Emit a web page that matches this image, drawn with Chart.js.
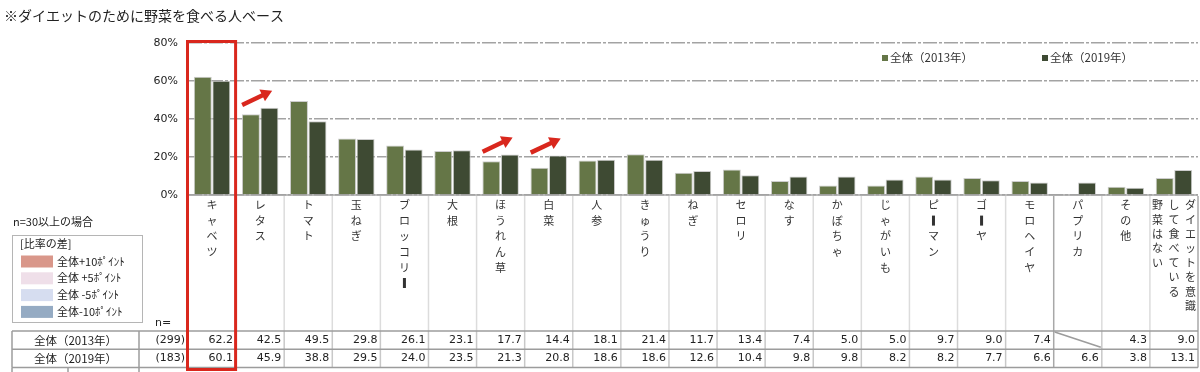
<!DOCTYPE html>
<html lang="ja">
<head>
<meta charset="utf-8">
<title>ダイエットのために野菜を食べる人ベース</title>
<script src="https://cdn.jsdelivr.net/npm/chart.js@4.4.1/dist/chart.umd.min.js"></script>
<style>
  html, body { margin: 0; padding: 0; background: #fff; }
  #wrap { position: relative; width: 1200px; height: 372px; }
</style>
</head>
<body>
<div id="wrap"><canvas id="vegChart"></canvas></div>
<script>
// ===== data =====
const categories = [
    'キャベツ', 'レタス', 'トマト', '玉ねぎ', 'ブロッコリー', '大根', 'ほうれん草',
    '白菜', '人参', 'きゅうり', 'ねぎ', 'セロリ', 'なす', 'かぼちゃ', 'じゃがいも',
    'ピーマン', 'ゴーヤ', 'モロヘイヤ', 'パプリカ', 'その他',
    ['ダイエットを意識', 'して食べている', '野菜はない']
];
const series2013 = [62.2, 42.5, 49.5, 29.8, 26.1, 23.1, 17.7, 14.4, 18.1, 21.4, 11.7,
    13.4, 7.4, 5.0, 5.0, 9.7, 9.0, 7.4, null, 4.3, 9.0];
const series2019 = [60.1, 45.9, 38.8, 29.5, 24.0, 23.5, 21.3, 20.8, 18.6, 18.6, 12.6,
    10.4, 9.8, 9.8, 8.2, 8.2, 7.7, 6.6, 6.6, 3.8, 13.1];
const seriesNames = ['全体（2013年）', '全体（2019年）'];
const sampleSizes = ['(299)', '(183)'];
const arrowIndexes = [1, 6, 7];
const diffLegend = ['全体+10ﾎﾟｲﾝﾄ', '全体 +5ﾎﾟｲﾝﾄ', '全体 -5ﾎﾟｲﾝﾄ', '全体-10ﾎﾟｲﾝﾄ'];

const JP = '"Noto Sans CJK JP", "Noto Sans", sans-serif';
const NUM = '"DejaVu Sans", Verdana, sans-serif';
const colors = ['#657647', '#3e4a33'];
const diffColors = ['#d9978a', '#efdfe9', '#d6ddf0', '#95abc3'];

// vertical (tategaki) text, one char per line
function drawVertical(ctx, text, cx, top, step) {
    [...text].forEach((ch, k) => {
        const y = top + k * step;
        if (ch === 'ー') {
            // long vowel mark turns into a thick vertical bar
            ctx.save();
            ctx.fillRect(cx - 1.5, y - 5, 3, 10);
            ctx.restore();
        } else {
            ctx.fillText(ch, cx, y);
        }
    });
}

function line(ctx, x1, y1, x2, y2) {
    ctx.beginPath();
    ctx.moveTo(x1, y1);
    ctx.lineTo(x2, y2);
    ctx.stroke();
}

const extras = {
    id: 'extras',
    beforeDatasetsDraw(chart) {
        const { ctx, chartArea: a } = chart;
        const y0 = chart.scales.y.getPixelForValue(0);
        ctx.save();
        ctx.strokeStyle = '#a3a3a3';
        ctx.lineWidth = 1.5;
        line(ctx, a.left, y0, a.right, y0);
        ctx.restore();
    },
    afterDraw(chart) {
        const { ctx, chartArea: a } = chart;
        const xs = chart.scales.x;
        const ys = chart.scales.y;
        const cw = xs.getPixelForValue(1) - xs.getPixelForValue(0);
        const leftOf = i => xs.getPixelForValue(i) - cw / 2;

        const tableTop = 331;
        const rowH = 18.3;
        const tableBottom = tableTop + rowH * 2;

        ctx.save();

        // ---- title ----
        ctx.fillStyle = '#222';
        ctx.font = '14px ' + JP;
        ctx.textBaseline = 'middle';
        ctx.textAlign = 'left';
        ctx.fillText('※ダイエットのために野菜を食べる人ベース', 4, 16);

        // ---- legend (top right) ----
        ctx.font = '11.5px ' + JP;
        [882, 1042].forEach((lx, k) => {
            ctx.fillStyle = colors[k];
            ctx.fillRect(lx, 55, 6, 6);
            ctx.fillStyle = '#333';
            ctx.fillText(seriesNames[k], lx + 8, 58);
        });

        // ---- category separators ----
        for (let i = 0; i <= categories.length; i++) {
            const bx = leftOf(i);
            const strong = i === 18 || i === categories.length;
            ctx.strokeStyle = strong ? '#a8a8a8' : '#dcdcdc';
            ctx.lineWidth = 1.5;
            line(ctx, bx, a.bottom + 1, bx, tableTop);
            ctx.strokeStyle = strong ? '#a8a8a8' : '#c8c8c8';
            line(ctx, bx, tableTop, bx, tableBottom);
        }

        // ---- category labels ----
        ctx.fillStyle = '#333';
        ctx.font = '11px ' + JP;
        ctx.textAlign = 'center';
        ctx.textBaseline = 'middle';
        categories.forEach((label, i) => {
            const cx = xs.getPixelForValue(i);
            if (Array.isArray(label)) {
                const n = label.length;
                label.forEach((col, j) => {
                    drawVertical(ctx, col, cx + ((n - 1) / 2 - j) * 16.5, 205, 14.4);
                });
            } else {
                drawVertical(ctx, label, cx, 205, 15.6);
            }
        });

        // ---- table ----
        ctx.strokeStyle = '#9c9c9c';
        ctx.lineWidth = 1.5;
        [tableTop, tableTop + rowH, tableBottom].forEach(ty => line(ctx, 12, ty, a.right, ty));
        [12, 139].forEach(vx => line(ctx, vx, tableTop, vx, tableBottom));
        [12, 68, 139].forEach(vx => line(ctx, vx, tableBottom, vx, 372));

        ctx.fillStyle = '#222';
        [series2013, series2019].forEach((vals, r) => {
            const ty = tableTop + rowH * (r + 0.5);
            ctx.font = '11.5px ' + JP;
            ctx.textAlign = 'center';
            ctx.fillText(seriesNames[r], 75.5, ty);
            ctx.font = '11px ' + NUM;
            ctx.textAlign = 'right';
            ctx.fillText(sampleSizes[r], 185, ty);
            vals.forEach((v, i) => {
                const right = leftOf(i + 1);
                if (v === null) {
                    ctx.strokeStyle = '#9c9c9c';
                    line(ctx, leftOf(i) + 1, tableTop + rowH * r + 1, right - 1, tableTop + rowH * (r + 1) - 2);
                } else {
                    ctx.fillText(v.toFixed(1), right - 3, ty);
                }
            });
        });

        ctx.font = '11px ' + NUM;
        ctx.textAlign = 'left';
        ctx.fillText('n=', 155, 323);

        // ---- difference legend box ----
        ctx.font = '11px ' + JP;
        ctx.fillStyle = '#222';
        ctx.fillText('n=30以上の場合', 13, 222);
        ctx.strokeStyle = '#b5b5b5';
        ctx.lineWidth = 1;
        ctx.strokeRect(12.5, 235.5, 130, 87);
        ctx.fillText('[比率の差]', 20, 243.5);
        diffLegend.forEach((txt, k) => {
            const cy = 261.5 + k * 16.8;
            ctx.fillStyle = diffColors[k];
            ctx.fillRect(21, cy - 6, 32, 12);
            ctx.fillStyle = '#222';
            ctx.fillText(txt, 57, cy);
        });

        // ---- red arrows ----
        ctx.fillStyle = '#d9271d';
        ctx.strokeStyle = '#d9271d';
        ctx.lineWidth = 4.5;
        ctx.lineCap = 'butt';
        arrowIndexes.forEach(i => {
            const cx = xs.getPixelForValue(i);
            const v = series2019[i];
            const x1 = cx - 18, y1 = ys.getPixelForValue(v + 1.5);
            const x2 = cx + 12, y2 = ys.getPixelForValue(v + 9);
            const ang = Math.atan2(y2 - y1, x2 - x1);
            const hl = 11, hw = 6.5;
            const bx = x2 - hl * Math.cos(ang), by = y2 - hl * Math.sin(ang);
            line(ctx, x1, y1, bx + 1 * Math.cos(ang), by + 1 * Math.sin(ang));
            ctx.beginPath();
            ctx.moveTo(x2, y2);
            ctx.lineTo(bx - hw * Math.sin(ang), by + hw * Math.cos(ang));
            ctx.lineTo(bx + hw * Math.sin(ang), by - hw * Math.cos(ang));
            ctx.closePath();
            ctx.fill();
        });

        // ---- red highlight box on first category ----
        ctx.strokeStyle = '#d9271d';
        ctx.lineWidth = 3;
        ctx.strokeRect(leftOf(0) - 0.5, 41.5, cw, 328);

        ctx.restore();
    }
};

new Chart(document.getElementById('vegChart'), {
    type: 'bar',
    data: {
        labels: categories,
        datasets: [
            {
                label: seriesNames[0],
                data: series2013,
                backgroundColor: colors[0],
                borderColor: '#cdcdcd',
                borderWidth: 1,
                categoryPercentage: 0.77,
                barPercentage: 0.97
            },
            {
                label: seriesNames[1],
                data: series2019,
                backgroundColor: colors[1],
                borderColor: '#cdcdcd',
                borderWidth: 1,
                categoryPercentage: 0.77,
                barPercentage: 0.97
            }
        ]
    },
    options: {
        responsive: true,
        maintainAspectRatio: false,
        animation: false,
        layout: { padding: { left: 148, right: 2, top: 43, bottom: 177 } },
        plugins: {
            legend: { display: false },
            tooltip: { enabled: false }
        },
        scales: {
            x: { display: false },
            y: {
                min: 0,
                max: 80,
                afterFit(scale) { scale.width = 40; },
                ticks: {
                    stepSize: 20,
                    padding: 10,
                    color: '#222',
                    font: { family: NUM, size: 11 },
                    callback: v => v + '%'
                },
                grid: { color: '#a3a3a3', lineWidth: 1.5, drawTicks: false },
                border: { display: false, dash: [14, 2, 3, 2] }
            }
        }
    },
    plugins: [extras]
});
</script>
</body>
</html>
